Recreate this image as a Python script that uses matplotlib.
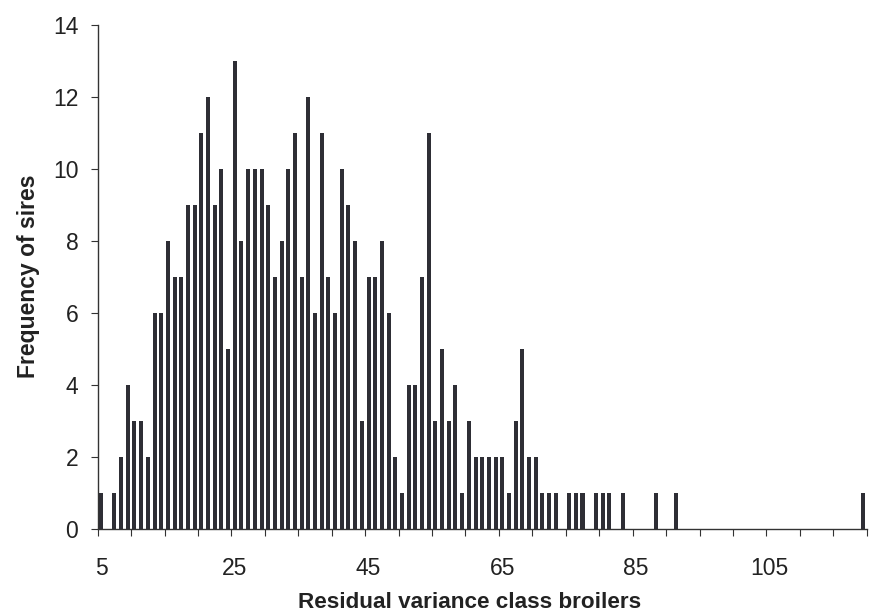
import matplotlib
matplotlib.use("Agg")
import matplotlib.pyplot as plt
import numpy as np

plt.rcParams['font.family'] = ['Liberation Sans', 'DejaVu Sans']

# Residual variance classes (categories 5..119)
classes = list(range(5, 120))
frequency = [
    1, 0, 1, 2, 4, 3, 3, 2, 6, 6,        # 5-14
    8, 7, 7, 9, 9, 11, 12, 9, 10, 5,     # 15-24
    13, 8, 10, 10, 10, 9, 7, 8, 10, 11,  # 25-34
    7, 12, 6, 11, 7, 6, 10, 9, 8, 3,     # 35-44
    7, 7, 8, 6, 2, 1, 4, 4, 7, 11,       # 45-54
    3, 5, 3, 4, 1, 3, 2, 2, 2, 2,        # 55-64
    2, 1, 3, 5, 2, 2, 1, 1, 1, 0,        # 65-74
    1, 1, 1, 0, 1, 1, 1, 0, 1, 0,        # 75-84
    0, 0, 0, 1, 0, 0, 1, 0, 0, 0,        # 85-94
    0, 0, 0, 0, 0, 0, 0, 0, 0, 0,        # 95-104
    0, 0, 0, 0, 0, 0, 0, 0, 0, 0,        # 105-114
    0, 0, 0, 0, 1,                       # 115-119
]
label_classes = [5, 25, 45, 65, 85, 105]
label_texts = ["5", "25", "45", "65", "85", "105"]
y_ticks = [0, 2, 4, 6, 8, 10, 12, 14]

W, H = 872, 615
fig = plt.figure(figsize=(W / 100, H / 100), dpi=100)
left, right, top, bottom = 97.7, 866.7, 25, 529
ax = fig.add_axes([left / W, (H - bottom) / H, (right - left) / W, (bottom - top) / H])

bar_color = '#2e2e35'
ax.bar(classes, frequency, width=0.6, color=bar_color, edgecolor='none')

ax.set_xlim(classes[0] - 0.5, classes[-1] + 0.5)
ax.set_ylim(0, 14)

for s in ['top', 'right']:
    ax.spines[s].set_visible(False)
for s in ['left', 'bottom']:
    ax.spines[s].set_color('#333333')
    ax.spines[s].set_linewidth(1.0)

# category boundary tick marks every 5 classes
boundaries = np.arange(classes[0] - 0.5, classes[-1] + 0.6, 5)
ax.set_xticks(boundaries, minor=True)
ax.set_xticks(label_classes)
ax.set_xticklabels(label_texts)
ax.tick_params(axis='x', which='minor', direction='out', length=5, width=0.8, color='#333333')
ax.tick_params(axis='x', which='major', length=0, pad=20, labelsize=16.5, labelcolor='#222222')

ax.set_yticks(y_ticks)
ax.tick_params(axis='y', direction='out', length=5, width=0.8, color='#333333',
               pad=9, labelsize=16.5, labelcolor='#222222')

fig.text(470 / W, 1 - 608 / H, 'Residual variance class broilers', ha='center', va='baseline',
         fontsize=16.2, fontweight='bold', color='#222222')
fig.text(28 / W, 1 - 276 / H, 'Frequency of sires', ha='center', va='center', rotation=90,
         fontsize=16.5, fontweight='bold', color='#222222')

fig.savefig('out.png', dpi=100)
